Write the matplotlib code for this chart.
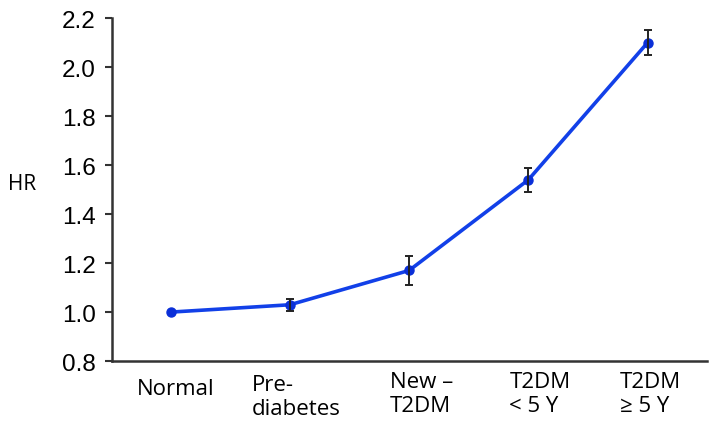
import matplotlib
matplotlib.use('Agg')
import matplotlib.pyplot as plt
from matplotlib import rcParams

# Hazard ratio by glycaemic status
groups = ['Normal', 'Pre-\ndiabetes', 'New –\nT2DM', 'T2DM\n< 5 Y', 'T2DM\n≥ 5 Y']
hr = [1.00, 1.03, 1.17, 1.54, 2.10]
hr_err = [0.0, 0.025, 0.058, 0.05, 0.05]

# label placement (pixels from tick position / bottom spine)
label_dx = [-34, -38, -19, -19, -28]
label_dy = [-17, -13, -10, -10, -10]

rcParams['font.family'] = ['Liberation Sans', 'DejaVu Sans']

fig = plt.figure(figsize=(7.1, 4.27), dpi=100)
ax = fig.add_axes([0.158, 0.152, 0.838, 0.803])

x = list(range(len(groups)))
ax.plot(x, hr, color='#1240e8', lw=2.6, marker='o', ms=6.5,
        mfc='#0a2fd8', mec='#0a2fd8', zorder=2)

has_err = [i for i in x if hr_err[i] > 0]
ax.errorbar([x[i] for i in has_err], [hr[i] for i in has_err],
            yerr=[hr_err[i] for i in has_err], fmt='none',
            ecolor='#222222', elinewidth=1.4, capsize=3, capthick=1.4,
            zorder=3)

ax.set_xlim(-0.49, 4.5)
ax.set_ylim(0.8, 2.2)
ax.set_yticks([0.8, 1.0, 1.2, 1.4, 1.6, 1.8, 2.0, 2.2])
ax.set_yticklabels(['%.1f' % v for v in ax.get_yticks()])
ax.tick_params(axis='y', direction='out', length=5, width=1.5,
               color='#333333', labelsize=17.5, pad=7)
ax.set_xticks([])

for side in ['top', 'right']:
    ax.spines[side].set_visible(False)
for side in ['left', 'bottom']:
    ax.spines[side].set_color('#333333')
    ax.spines[side].set_linewidth(1.8)

for i, lab in enumerate(groups):
    ax.annotate(lab, xy=(x[i], 0), xycoords=ax.get_xaxis_transform(),
                xytext=(label_dx[i], label_dy[i]), textcoords='offset pixels',
                ha='left', va='top', family='Open Sans', fontsize=16,
                linespacing=1.2, annotation_clip=False)

fig.text(8 / 710, 1 - 185 / 427, 'HR', va='center', ha='left',
         family='Open Sans', fontsize=15)

fig.savefig('out.png', dpi=100)
